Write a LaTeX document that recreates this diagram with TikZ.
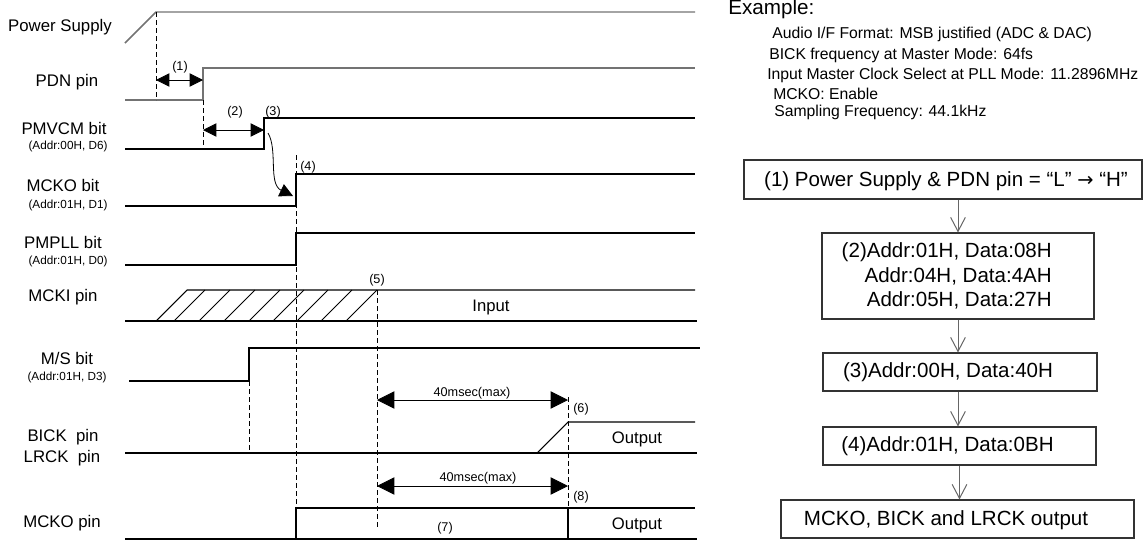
\documentclass[tikz,border=0pt]{standalone}
\usepackage{fontspec}
\setmainfont{Liberation Sans}
\newfontfamily\symfont{DejaVu Sans}
\usetikzlibrary{arrows.meta}
\begin{document}
\begin{tikzpicture}[x=0.75pt,y=-0.75pt,
  sig/.style={line width=0.8pt, black},
  sigg/.style={line width=1.1pt, black!55},
  hatch/.style={line width=0.6pt, black},
  guide/.style={line width=0.6pt, dash pattern=on 3.5pt off 2.5pt},
  lbl/.style={font=\fontsize{12.6}{14}\selectfont, inner sep=0pt},
  sub/.style={font=\fontsize{8.8}{10}\selectfont, inner sep=0pt},
  num/.style={font=\fontsize{9.5}{11}\selectfont, inner sep=0pt},
  io/.style={font=\fontsize{12.5}{14}\selectfont, inner sep=0pt},
  dim/.style={line width=0.6pt, {Triangle[length=10pt,width=10pt]}-{Triangle[length=10pt,width=10pt]}},
  dimbig/.style={line width=0.6pt, {Triangle[length=13pt,width=13pt]}-{Triangle[length=13pt,width=13pt]}},
  box/.style={draw=black!80, line width=0.8pt, inner sep=0pt},
  boxtext/.style={font=\fontsize{15.4}{18.5}\selectfont, inner sep=0pt},
  extext/.style={font=\fontsize{11.8}{14}\selectfont, inner sep=0pt, anchor=west},
  flow/.style={draw=black!60, line width=0.75pt, -{Straight Barb[length=10.5pt,width=11pt]}},
]
\useasboundingbox (0,0) rectangle (1143,540);

% ---------- signal names ----------
\node[lbl] (lps) at (60,27) {Power Supply};
\node[lbl] (lpdn) at (67,82) {PDN pin};
\node[lbl] (lpmv) at (64,128) {PMVCM bit};
\node[sub] (lpmva) at (68,146) {(Addr:00H, D6)};
\node[lbl] (lmck) at (63,185) {MCKO bit};
\node[sub] (lmcka) at (68,205) {(Addr:01H, D1)};
\node[lbl] (lpll) at (63,242) {PMPLL bit};
\node[sub] (lplla) at (68,261) {(Addr:01H, D0)};
\node[lbl] (lmcki) at (63,297) {MCKI pin};
\node[lbl] (lms) at (67,358) {M/S bit};
\node[sub] (lmsa) at (67,377) {(Addr:01H, D3)};
\node[lbl] (lbick) at (63,437) {BICK~~pin};
\node[lbl] (llrck) at (62,458) {LRCK~~pin};
\node[lbl] (lmcko) at (62,523) {MCKO pin};

% ---------- waveforms ----------
\draw[sigg] (125,43) -- (156,12) -- (695,12);
\draw[sigg] (125,100) -- (203,100) -- (203,68) -- (695,68);
\draw[sig] (125,149) -- (264,149) -- (264,118) -- (695,118);
\draw[sig] (125,206) -- (296,206) -- (296,174) -- (695,174);
\draw[sig] (125,265) -- (296,265) -- (296,233) -- (695,233);
% MCKI
\draw[sig] (125,321) -- (697,321);
\draw[sig] (156,321) -- (187,290) -- (695,290);
\foreach \b in {174,199,224,249,273,297,321,346}
  \draw[hatch] (\b,321) -- ++(31,-31);
% M/S
\draw[sig] (129,381) -- (249,381) -- (249,348) -- (700,348);
% BICK / LRCK
\draw[sig] (125,453) -- (697,453);
\draw[sig] (537,453) -- (568,422) -- (695,422);
% MCKO pin
\draw[sig] (125,539) -- (697,539);
\draw[sig] (296,539) -- (296,508) -- (695,508);
\draw[sig] (568,508) -- (568,539);

% ---------- guide lines ----------
\draw[guide] (156,12) -- (156,100);
\draw[guide] (203,100) -- (203,147);
\draw[guide] (296,155) -- (296,508);
\draw[guide] (249,381) -- (249,453);
\draw[guide] (377,290) -- (377,528);
\draw[guide] (568,397) -- (568,508);

% ---------- timing arrows ----------
\draw[dim] (156,80) -- (203,80);
\draw[dim] (203,130) -- (264,130);
\draw[dimbig] (377,400) -- (568,400);
\draw[dimbig] (377,486) -- (568,486);
\draw[line width=0.6pt, -{Triangle[length=10pt,width=10pt]}]
  (268,133) .. controls (278,150) and (268,184) .. (293,196);

% ---------- step numbers and texts ----------
\node[num] (n1) at (180,67) {(1)};
\node[num] (n2) at (235,112) {(2)};
\node[num] (n3) at (273,112) {(3)};
\node[num] (n4) at (308,167) {(4)};
\node[num] (n5) at (377,280) {(5)};
\node[num] (n6) at (581,409) {(6)};
\node[num] (n7) at (445,528) {(7)};
\node[num] (n8) at (581,497) {(8)};
\node[num] (d1) at (472,393) {40msec(max)};
\node[num] (d2) at (478,478) {40msec(max)};
\node[io] (tin) at (491,307) {Input};
\node[io] (tout1) at (637,439) {Output};
\node[io] (tout2) at (637,525) {Output};

% ---------- example ----------
\node[font=\fontsize{15.5}{18}\selectfont, anchor=west, inner sep=0pt] (ex) at (728,9) {Example:};
\node[extext] (e1) at (772,34) {Audio I/F Format: MSB justified (ADC \& DAC)};
\node[extext] (e2) at (769,55) {BICK frequency at Master Mode: 64fs};
\node[extext] (e3) at (767,75) {Input Master Clock Select at PLL Mode: 11.2896MHz};
\node[extext] (e4) at (773,94) {MCKO: Enable};
\node[extext] (e5) at (774,112) {Sampling Frequency: 44.1kHz};

% ---------- flow chart ----------
\node[box, minimum width=298.5pt, minimum height=29.25pt] (b1) at (943,179.5) {};
\node[boxtext] (t1) at (946,181) {(1) Power Supply \& PDN pin = “L” {\symfont\fontsize{14.5}{16}\selectfont →} “H”};
\node[box, minimum width=204pt, minimum height=64.5pt] (b2) at (958,276) {};
\node[boxtext, align=right, anchor=east] (t2) at (1052,276) {(2)Addr:01H, Data:08H\\Addr:04H, Data:4AH\\Addr:05H, Data:27H};
\node[box, minimum width=205.5pt, minimum height=28.5pt] (b3) at (960,372) {};
\node[boxtext] (t3) at (948,372) {(3)Addr:00H, Data:40H};
\node[box, minimum width=204.75pt, minimum height=28.5pt] (b4) at (959.5,446) {};
\node[boxtext] (t4) at (947.5,446) {(4)Addr:01H, Data:0BH};
\node[box, minimum width=264.75pt, minimum height=28.5pt] (b5) at (957.5,519) {};
\node[boxtext] (t5) at (946,520) {MCKO, BICK and LRCK output};

\draw[flow] (b1.south -| b2.north) -- (b2.north);
\draw[flow] (b2.south) -- (b2.south |- b3.north);
\draw[flow] (b3.south -| b2.south) -- (b2.south |- b4.north);
\draw[flow] (b4.south) -- (b4.south |- b5.north);
\end{tikzpicture}
\end{document}
